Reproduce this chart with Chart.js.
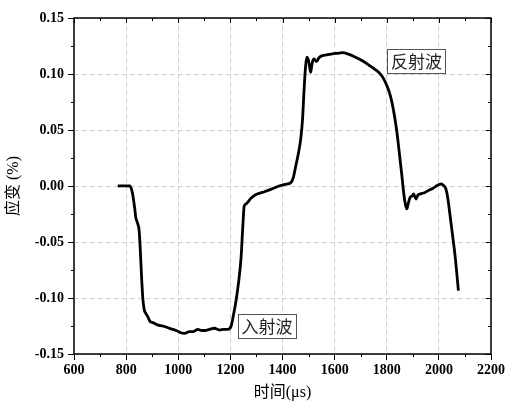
<!DOCTYPE html>
<html>
<head>
<meta charset="utf-8">
<script src="https://cdn.jsdelivr.net/npm/chart.js@4/dist/chart.umd.min.js"></script>
<style>
  html, body { margin: 0; padding: 0; background: #ffffff; }
  #wrap { width: 507px; height: 405px; }
</style>
</head>
<body>
<div id="wrap"><canvas id="strainChart" width="507" height="405"></canvas></div>
<script>
// time (µs) and strain (%)
const times = [
  768, 800, 814, 822, 827, 833, 837, 845, 850, 855, 859, 864, 869, 876, 884, 892, 903, 920, 941, 965,
  992, 1010, 1024, 1043, 1058, 1075, 1090, 1101, 1120, 1139, 1158, 1175, 1190, 1203, 1212, 1222, 1232, 1241, 1248, 1253,
  1260, 1266, 1279, 1295, 1323, 1355, 1387, 1410, 1432, 1442, 1451, 1460, 1470, 1477, 1483, 1488, 1493, 1500, 1508, 1514,
  1521, 1530, 1540, 1553, 1570, 1591, 1610, 1629, 1650, 1680, 1705, 1731, 1750, 1769, 1782, 1795, 1808, 1820, 1830, 1839,
  1849, 1858, 1866, 1872, 1877, 1883, 1890, 1897, 1903, 1912, 1920, 1929, 1945, 1960, 1978, 1992, 2009, 2020, 2027, 2035,
  2043, 2052, 2062, 2075
];
const strain = [
  0, 0.0002, 0, -0.004, -0.010, -0.020, -0.028, -0.034, -0.040, -0.060, -0.080, -0.100, -0.110, -0.114, -0.117, -0.121, -0.122, -0.124, -0.125, -0.127,
  -0.129, -0.131, -0.1316, -0.130, -0.130, -0.128, -0.129, -0.129, -0.128, -0.127, -0.1286, -0.128, -0.128, -0.125, -0.115, -0.102, -0.085, -0.064, -0.035, -0.018,
  -0.016, -0.0146, -0.011, -0.008, -0.0057, -0.003, 0.000, 0.0015, 0.003, 0.008, 0.018, 0.028, 0.042, 0.060, 0.087, 0.105, 0.115, 0.112, 0.1015, 0.110,
  0.1134, 0.111, 0.1145, 0.1164, 0.117, 0.118, 0.1185, 0.119, 0.118, 0.115, 0.112, 0.108, 0.105, 0.1015, 0.098, 0.0926, 0.085, 0.0747, 0.062, 0.048,
  0.028, 0.0092, -0.008, -0.017, -0.0205, -0.015, -0.010, -0.009, -0.007, -0.0116, -0.008, -0.007, -0.006, -0.004, -0.002, 0.0003, 0.0018, 0.000, -0.0027, -0.012,
  -0.0265, -0.043, -0.062, -0.0935
];

// boxed labels
const noteText = ['反射波', '入射波'];
const noteX = [1914, 1341];
const noteY = [0.1116, -0.125];

const xMin = 600, xMax = 2200, xStep = 200;
const yMin = -0.15, yMax = 0.15, yStep = 0.05;

const numFont = { family: '"Liberation Serif", "Times New Roman", serif', size: 14, weight: 'bold' };
const cjkFont = '"Liberation Serif", "Noto Sans CJK SC", serif';

const framePlugin = {
  id: 'frame',
  afterDraw(chart) {
    const ctx = chart.ctx;
    const area = chart.chartArea;
    const xs = chart.scales.x;
    const ys = chart.scales.y;
    ctx.save();

    // ticks: minor outward on left/bottom, all inward on top/right
    ctx.strokeStyle = '#000';
    ctx.lineWidth = 1;
    ctx.beginPath();
    for (let v = xMin; v <= xMax + 0.001; v += xStep / 2) {
      const px = Math.round(xs.getPixelForValue(v)) + 0.5;
      const major = Math.abs((v - xMin) % xStep) < 0.001;
      const len = major ? 5 : 3;
      ctx.moveTo(px, area.top);
      ctx.lineTo(px, area.top + len);
      if (!major) {
        ctx.moveTo(px, area.bottom);
        ctx.lineTo(px, area.bottom + 3);
      }
    }
    for (let i = 0; i <= Math.round((yMax - yMin) / (yStep / 2)); i++) {
      const v = yMin + i * yStep / 2;
      const py = Math.round(ys.getPixelForValue(v)) + 0.5;
      const major = i % 2 === 0;
      const len = major ? 5 : 3;
      ctx.moveTo(area.right, py);
      ctx.lineTo(area.right - len, py);
      if (!major) {
        ctx.moveTo(area.left, py);
        ctx.lineTo(area.left - 3, py);
      }
    }
    ctx.stroke();

    // frame
    ctx.lineWidth = 1.5;
    ctx.strokeRect(area.left, area.top, area.right - area.left, area.bottom - area.top);

    // boxed notes
    ctx.font = '17px "Noto Sans CJK SC", sans-serif';
    ctx.textAlign = 'center';
    ctx.textBaseline = 'middle';
    noteText.forEach((t, i) => {
      const cx = xs.getPixelForValue(noteX[i]);
      const cy = ys.getPixelForValue(noteY[i]);
      const w = 58, h = 24;
      ctx.fillStyle = '#fff';
      ctx.fillRect(cx - w / 2, cy - h / 2, w, h);
      ctx.strokeStyle = '#555';
      ctx.lineWidth = 1;
      ctx.strokeRect(Math.round(cx - w / 2) + 0.5, Math.round(cy - h / 2) + 0.5, w, h);
      ctx.fillStyle = '#222';
      ctx.fillText(t, cx, cy + 1);
    });

    // axis titles
    ctx.fillStyle = '#000';
    ctx.font = '16px ' + cjkFont;
    ctx.fillText('时间(μs)', (area.left + area.right) / 2, 393);
    ctx.translate(14, (area.top + area.bottom) / 2);
    ctx.rotate(-Math.PI / 2);
    ctx.fillText('应变 (%)', 0, 0);
    ctx.restore();
  }
};

const gridOpts = { color: '#cfcfcf', lineWidth: 1, drawTicks: true, tickLength: 6, tickColor: '#000', tickWidth: 1 };

new Chart(document.getElementById('strainChart'), {
  type: 'line',
  data: {
    datasets: [{
      data: times.map((t, i) => ({ x: t, y: strain[i] })),
      borderColor: '#000',
      borderWidth: 2.8,
      pointRadius: 0,
      cubicInterpolationMode: 'monotone',
      fill: false
    }]
  },
  options: {
    responsive: false,
    animation: false,
    layout: { padding: { top: 18, right: 14, left: 0, bottom: 0 } },
    plugins: { legend: { display: false }, tooltip: { enabled: false } },
    scales: {
      x: {
        type: 'linear',
        min: xMin, max: xMax,
        afterFit(s) { s.height = 51; },
        ticks: { stepSize: xStep, color: '#000', font: numFont, padding: 2, maxRotation: 0,
          callback: v => String(Math.round(v)) },
        grid: gridOpts,
        border: { display: false, dash: [5, 3] }
      },
      y: {
        min: yMin, max: yMax,
        afterFit(s) { s.width = 74; },
        ticks: { stepSize: yStep, color: '#000', font: numFont, padding: 4,
          callback: v => v.toFixed(2) },
        grid: gridOpts,
        border: { display: false, dash: [5, 3] }
      }
    }
  },
  plugins: [framePlugin]
});
</script>
</body>
</html>
